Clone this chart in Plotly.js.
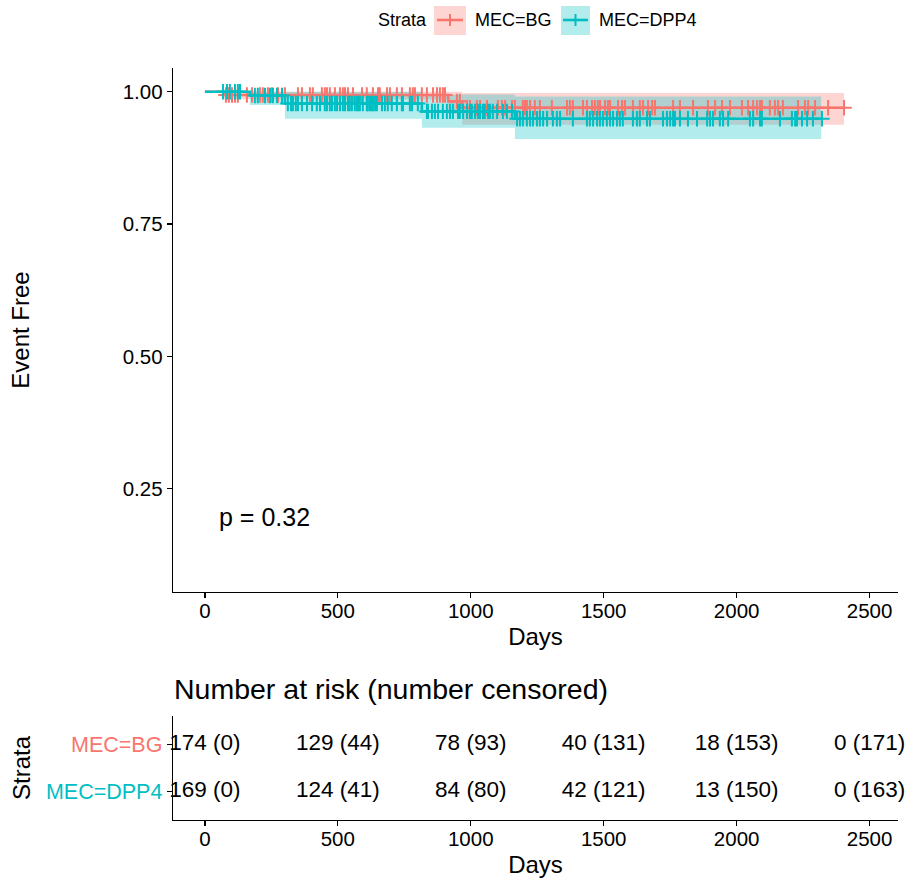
<!DOCTYPE html>
<html>
<head>
<meta charset="utf-8">
<script src="https://cdn.plot.ly/plotly-3.0.1.min.js"></script>
<style>html,body{margin:0;padding:0;background:#fff;}#chart{width:905px;height:882px;}</style>
</head>
<body>
<div id="chart"></div>
<script>
// ---- Data ----
const strata = ['MEC=BG', 'MEC=DPP4'];
const colBG = '#F8766D';
const colDPP4 = '#00BFC4';

// Kaplan-Meier steps
const bgTime  = [0, 72, 915, 968, 2404];
const bgSurv  = [1, 0.994, 0.982, 0.970, 0.970];
const bgUpper = [1, 1.000, 1.000, 0.998, 0.998];
const bgLower = [1, 0.986, 0.958, 0.938, 0.938];

const dppTime  = [0, 169, 301, 816, 1166, 2318];
const dppSurv  = [1, 0.993, 0.978, 0.963, 0.949, 0.949];
const dppUpper = [1, 1.000, 1.000, 0.995, 0.991, 0.991];
const dppLower = [1, 0.975, 0.949, 0.932, 0.911, 0.911];

// Censoring times (days)
const bgCensor = [79, 90, 102, 113, 124, 158, 177, 207, 218, 237, 252, 275, 301, 350, 365, 395, 406, 440, 451, 459, 470, 489, 508, 519, 527, 538, 557, 591, 609, 632, 651, 658, 685, 696, 722, 741, 771, 782, 790, 816, 835, 858, 873, 884, 895, 903, 948, 959, 986, 997, 1023, 1035, 1061, 1102, 1117, 1129, 1155, 1166, 1196, 1204, 1211, 1223, 1241, 1260, 1305, 1362, 1373, 1384, 1422, 1437, 1456, 1467, 1478, 1486, 1505, 1516, 1524, 1554, 1569, 1580, 1610, 1636, 1648, 1667, 1682, 1693, 1761, 1787, 1836, 1892, 1919, 1945, 1975, 2020, 2043, 2062, 2077, 2088, 2095, 2125, 2144, 2156, 2174, 2231, 2257, 2269, 2295, 2344, 2404];
const dppCensor = [68, 83, 94, 113, 124, 132, 188, 199, 226, 245, 256, 271, 290, 312, 324, 331, 342, 350, 365, 384, 403, 421, 433, 451, 459, 470, 478, 489, 497, 508, 519, 527, 538, 545, 553, 564, 572, 576, 583, 594, 609, 613, 621, 628, 632, 640, 647, 666, 677, 688, 703, 722, 741, 745, 771, 779, 801, 835, 839, 854, 865, 877, 895, 910, 922, 933, 952, 959, 971, 986, 997, 1004, 1016, 1027, 1035, 1046, 1053, 1065, 1072, 1083, 1099, 1121, 1136, 1155, 1174, 1185, 1196, 1211, 1223, 1234, 1249, 1260, 1272, 1287, 1309, 1324, 1336, 1384, 1437, 1448, 1460, 1475, 1486, 1497, 1512, 1524, 1535, 1550, 1561, 1572, 1610, 1625, 1636, 1663, 1674, 1723, 1738, 1750, 1761, 1768, 1787, 1817, 1851, 1889, 1900, 1911, 1937, 1949, 1968, 2050, 2062, 2088, 2095, 2163, 2208, 2220, 2227, 2246, 2265, 2287, 2321];

// Risk table
const riskTimes = [0, 500, 1000, 1500, 2000, 2500];
const bgAtRisk  = [174, 129, 78, 40, 18, 0];
const bgCens    = [0, 44, 93, 131, 153, 171];
const dppAtRisk = [169, 124, 84, 42, 13, 0];
const dppCens   = [0, 41, 80, 121, 150, 163];

const xTicks = [0, 500, 1000, 1500, 2000, 2500];
const yTicks = [0.25, 0.50, 0.75, 1.00];
const pText = 'p = 0.32';

// ---- helpers ----
function stepAt(times, surv, t) {
  let v = surv[0];
  for (let i = 0; i < times.length; i++) { if (times[i] <= t) v = surv[i]; }
  return v;
}
const FONT = 'Liberation Sans, Arial, Helvetica, sans-serif';

const traces = [];
function addBand(times, lower, upper, col) {
  traces.push({x: times, y: lower, type: 'scatter', mode: 'lines', line: {shape: 'hv', width: 0, color: col},
    hoverinfo: 'skip', showlegend: false, xaxis: 'x', yaxis: 'y'});
  traces.push({x: times, y: upper, type: 'scatter', mode: 'lines', line: {shape: 'hv', width: 0, color: col},
    fill: 'tonexty', fillcolor: col, hoverinfo: 'skip', showlegend: false, xaxis: 'x', yaxis: 'y'});
}
addBand(bgTime, bgLower, bgUpper, 'rgba(248,118,109,0.3)');
addBand(dppTime, dppLower, dppUpper, 'rgba(0,191,196,0.3)');

function addCurve(times, surv, cens, col, name) {
  traces.push({x: times, y: surv, type: 'scatter', mode: 'lines', line: {shape: 'hv', width: 2.6, color: col},
    name: name, showlegend: false, xaxis: 'x', yaxis: 'y'});
  traces.push({x: cens, y: cens.map(t => stepAt(times, surv, t)), type: 'scatter', mode: 'markers',
    marker: {symbol: 'cross-thin-open', size: 11, color: col, line: {color: col, width: 2}},
    showlegend: false, xaxis: 'x', yaxis: 'y'});
}
addCurve(bgTime, bgSurv, bgCensor, colBG, strata[0]);
addCurve(dppTime, dppSurv, dppCensor, colDPP4, strata[1]);

// risk table text
const riskFont = {family: FONT, size: 22.5, color: '#000'};
traces.push({x: riskTimes, y: riskTimes.map(() => 1), type: 'scatter', mode: 'text',
  text: bgAtRisk.map((n, i) => n + ' (' + bgCens[i] + ')'), textposition: 'middle center',
  textfont: riskFont, showlegend: false, hoverinfo: 'skip', xaxis: 'x2', yaxis: 'y2', cliponaxis: false});
traces.push({x: riskTimes, y: riskTimes.map(() => 0), type: 'scatter', mode: 'text',
  text: dppAtRisk.map((n, i) => n + ' (' + dppCens[i] + ')'), textposition: 'middle center',
  textfont: riskFont, showlegend: false, hoverinfo: 'skip', xaxis: 'x2', yaxis: 'y2', cliponaxis: false});

const W = 905, H = 882;
const px = v => v / W;
const py = v => 1 - v / H;
const xr = [-120, 2607];

const axisCommon = {
  showline: true, linecolor: '#000', linewidth: 1.3, mirror: false,
  ticks: 'outside', ticklen: 5, tickwidth: 1.3, tickcolor: '#000',
  showgrid: false, zeroline: false, tickfont: {family: FONT, size: 20.5, color: '#000'}
};
const titleFont = {family: FONT, size: 24, color: '#000'};

const layout = {
  width: W, height: H, margin: {l: 0, r: 0, t: 0, b: 0},
  paper_bgcolor: '#fff', plot_bgcolor: '#fff', showlegend: false,
  font: {family: FONT, color: '#000'},
  xaxis: Object.assign({}, axisCommon, {domain: [px(173), px(898)], range: xr, anchor: 'y',
    tickvals: xTicks, ticklabelstandoff: -5, title: {text: 'Days', font: titleFont, standoff: 7}}),
  yaxis: Object.assign({}, axisCommon, {domain: [py(592), py(68)], range: [0.055, 1.045], anchor: 'x',
    tickvals: yTicks, tickformat: '.2f',
    title: {text: 'Event Free', font: titleFont, standoff: 86}}),
  xaxis2: Object.assign({}, axisCommon, {domain: [px(173), px(898)], range: xr, anchor: 'y2',
    tickvals: xTicks, ticklabelstandoff: -5, title: {text: 'Days', font: titleFont, standoff: 7}}),
  yaxis2: Object.assign({}, axisCommon, {domain: [py(820), py(716)], range: [-0.6, 1.6], anchor: 'x2',
    tickvals: [1, 0], tickfont: {family: FONT, size: 21.5, color: '#000'},
    ticktext: ['<span style="color:' + colBG + '">' + strata[0] + '</span>',
               '<span style="color:' + colDPP4 + '">' + strata[1] + '</span>'],
    title: {text: 'Strata', font: titleFont, standoff: 8}}),
  annotations: [
    {xref: 'x', yref: 'y', x: 45, y: 0.196, text: pText, showarrow: false, xanchor: 'left', yanchor: 'middle',
      font: {family: FONT, size: 25, color: '#000'}},
    {xref: 'paper', yref: 'paper', x: px(172), y: py(689), text: 'Number at risk (number censored)', showarrow: false,
      xanchor: 'left', yanchor: 'middle', font: {family: FONT, size: 28.5, color: '#000'}},
    // legend
    {xref: 'paper', yref: 'paper', x: px(376), y: py(20), text: 'Strata', showarrow: false, xanchor: 'left', yanchor: 'middle',
      font: {family: FONT, size: 18, color: '#000'}},
    {xref: 'paper', yref: 'paper', x: px(473), y: py(20), text: strata[0], showarrow: false, xanchor: 'left', yanchor: 'middle',
      font: {family: FONT, size: 18, color: '#000'}},
    {xref: 'paper', yref: 'paper', x: px(597), y: py(20), text: strata[1], showarrow: false, xanchor: 'left', yanchor: 'middle',
      font: {family: FONT, size: 18, color: '#000'}}
  ],
  shapes: [
    {type: 'rect', xref: 'paper', yref: 'paper', x0: px(434), x1: px(466), y0: py(35), y1: py(6), line: {width: 0}, fillcolor: 'rgba(248,118,109,0.3)'},
    {type: 'line', xref: 'paper', yref: 'paper', x0: px(437), x1: px(463), y0: py(20), y1: py(20), line: {color: colBG, width: 2.6}},
    {type: 'line', xref: 'paper', yref: 'paper', x0: px(450), x1: px(450), y0: py(14), y1: py(26), line: {color: colBG, width: 2}},
    {type: 'rect', xref: 'paper', yref: 'paper', x0: px(561), x1: px(590), y0: py(35), y1: py(6), line: {width: 0}, fillcolor: 'rgba(0,191,196,0.3)'},
    {type: 'line', xref: 'paper', yref: 'paper', x0: px(563), x1: px(588), y0: py(20), y1: py(20), line: {color: colDPP4, width: 2.6}},
    {type: 'line', xref: 'paper', yref: 'paper', x0: px(575.5), x1: px(575.5), y0: py(14), y1: py(26), line: {color: colDPP4, width: 2}}
  ]
};

Plotly.newPlot('chart', traces, layout, {displayModeBar: false, staticPlot: true});
</script>
</body>
</html>
